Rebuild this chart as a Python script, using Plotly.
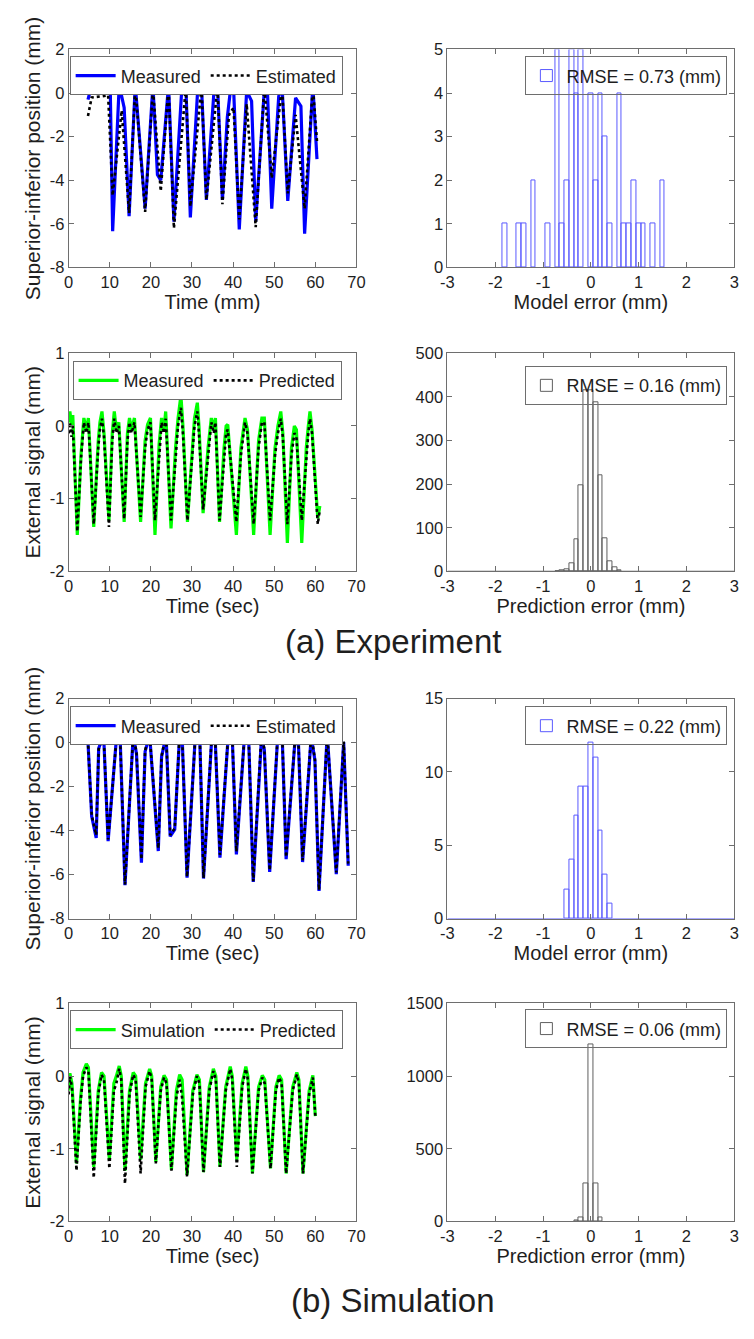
import plotly.graph_objects as go
from plotly.subplots import make_subplots

W, H = 754, 1339
FONT = "Liberation Sans, Arial, sans-serif"
TXT = "#1e1e1e"
AXC = "#6e6e6e"
BLUE = "#0000ff"
GREEN = "#00ff00"
HIST_BLUE = "rgb(90,90,255)"
HIST_GRAY = "rgb(95,95,95)"

# ---------------- (a) Experiment ----------------
# Superior-inferior position, measured
exp_si_meas_t = [4.7, 5.6, 8.0, 9.6, 10.1, 10.7, 12.3, 13.5, 14.7, 16.2, 18.6, 20.5,
                 21.6, 22.4, 24.3, 25.6, 27.5, 28.5, 29.6, 31.4, 32.3, 33.5, 35.4,
                 36.2, 37.4, 38.6, 39.5, 40.1, 41.5, 43.3, 44.5, 45.5, 47.6, 48.3,
                 49.4, 51.1, 51.9, 53.3, 55.2, 56.5, 57.4, 59.4, 60.4]
exp_si_meas = [-0.3, 0.37, 0.37, 0.3, 0.37, -6.34, 0.37, -0.67, -5.65, 0.37, -5.3, 0.37,
               -3.75, -4.0, 0.37, -5.9, 0.15, 0.37, -5.7, 0.2, 0.37, -4.9, 0.2,
               0.37, -4.9, -1.1, 0.37, 0.3, -6.25, 0.1, -0.37, -5.9, 0.15, 0.37,
               -5.3, -0.15, 0.37, -4.95, -0.22, -0.6, -6.45, 0.37, -3.03]
# Superior-inferior position, estimated by the model
exp_si_est_t = [4.7, 5.6, 8.0, 9.6, 10.7, 12.9, 14.7, 16.2, 18.6, 20.5, 22.4, 24.3,
                25.6, 28.5, 29.6, 32.3, 33.5, 36.2, 37.4, 39.0, 40.1, 41.5, 43.3,
                45.5, 47.6, 49.4, 51.9, 53.3, 55.2, 57.4, 59.4, 60.4]
exp_si_est = [-1.05, -0.2, -0.15, -0.1, -4.7, -0.8, -5.5, 0.3, -5.45, 0.2, -4.5, 0.3,
              -6.2, 0.3, -5.2, 0.3, -4.9, 0.3, -5.1, -1.0, -0.67, -5.8, -0.5,
              -6.15, 0.3, -3.9, 0.3, -4.6, -1.0, -5.3, 0.3, -2.2]

# External signal, measured and predicted
exp_ext_t = [0.0, 0.3, 0.7, 1.0, 2.1, 3.0, 3.7, 4.3, 4.8, 6.1, 7.2, 7.6, 8.1, 8.6, 9.8,
             10.6, 11.1, 11.6, 12.2, 13.5, 14.3, 14.8, 15.3, 16.0, 17.5, 18.6, 19.2,
             19.9, 21.0, 22.0, 22.6, 23.2, 23.6, 24.9, 26.0, 26.6, 27.3, 27.8, 28.9,
             30.0, 30.6, 31.3, 31.7, 32.7, 33.9, 34.7, 35.3, 35.7, 36.7, 37.8, 38.3,
             38.7, 40.8, 41.9, 42.5, 42.9, 43.5, 45.0, 46.2, 47.0, 47.6, 49.0, 50.2,
             50.9, 51.6, 52.1, 53.2, 54.2, 54.9, 55.4, 56.7, 57.8, 58.3, 58.7, 59.2,
             60.6, 61.1]
exp_ext_meas = [0.05, 0.2, 0.0, 0.15, -1.5, -0.4, 0.11, -0.05, 0.11, -1.39, -0.2, 0.05,
                0.2, -0.1, -1.3, -0.1, 0.2, -0.05, 0.05, -1.32, -0.1, 0.11, -0.05, 0.11,
                -1.32, -0.2, 0.02, 0.11, -1.5, -0.25, 0.11, -0.05, 0.2, -1.41, -0.3,
                0.1, 0.42, 0.0, -1.32, -0.3, 0.1, 0.32, 0.0, -1.2, -0.3, 0.11, -0.05,
                0.11, -1.32, -0.3, 0.0, 0.02, -1.5, -0.3, 0.0, 0.11, -0.05, -1.5, -0.2,
                0.11, 0.11, -1.5, -0.3, 0.0, 0.2, -0.1, -1.61, -0.3, 0.0, -0.05, -1.61,
                -0.3, 0.0, 0.2, -0.05, -1.27, -1.1]
exp_ext_pred = [-0.1, 0.05, -0.15, 0.0, -1.45, -0.45, 0.05, -0.1, 0.05, -1.35, -0.3, -0.05,
                0.1, -0.15, -1.39, -0.2, 0.1, -0.1, 0.0, -1.28, -0.2, 0.05, -0.1, 0.05,
                -1.25, -0.3, -0.05, 0.05, -1.3, -0.35, 0.05, -0.1, 0.1, -1.3, -0.4,
                0.0, 0.25, -0.1, -1.3, -0.4, 0.0, 0.2, -0.1, -1.15, -0.4, 0.05, -0.1,
                0.05, -1.3, -0.4, -0.1, -0.05, -1.32, -0.4, -0.1, 0.05, -0.1, -1.35, -0.3,
                0.05, 0.05, -1.3, -0.4, -0.1, 0.1, -0.15, -1.35, -0.4, -0.1, -0.15, -1.3,
                -0.4, -0.1, 0.1, -0.1, -1.35, -1.15]

# Error histograms (bin centres, bin width 0.1 mm)
exp_model_err_bins = [-1.8, -1.5, -1.4, -1.2, -0.9, -0.7, -0.6, -0.5, -0.4, -0.3, -0.2,
                      0.0, 0.1, 0.2, 0.3, 0.4, 0.6, 0.7, 0.8, 0.9, 1.0, 1.1, 1.3, 1.5]
exp_model_err_counts = [1, 1, 1, 2, 1, 5, 1, 2, 5, 4, 5,
                        4, 2, 4, 3, 1, 4, 1, 1, 2, 1, 1, 1, 2]
exp_pred_err_bins = [-0.7, -0.6, -0.5, -0.4, -0.3, -0.2, -0.1, 0.0, 0.1, 0.2, 0.3, 0.4,
                     0.5, 0.6]
exp_pred_err_counts = [1, 2, 4, 19, 73, 198, 415, 415, 387, 220, 75, 22, 9, 2]

# ---------------- (b) Simulation ----------------
sim_si_t = [4.6, 5.6, 6.7, 7.3, 8.5, 9.6, 11.7, 12.5, 13.7, 15.7, 16.5, 17.7, 18.6,
            19.7, 21.8, 22.6, 23.7, 24.7, 25.8, 26.9, 27.6, 28.8, 30.8, 31.9, 32.8,
            34.8, 35.6, 36.8, 38.8, 39.8, 40.8, 42.8, 43.8, 44.9, 46.9, 47.6, 48.9,
            50.8, 52.0, 52.9, 55.0, 55.9, 56.9, 59.0, 59.9, 60.9, 62.9, 65.1, 66.9,
            68.0]
sim_si_meas = [0.4, -3.35, -4.33, -0.27, 0.38, -4.48, 0.38, 0.33, -6.48, 0.33, -0.5,
               -5.46, -0.4, 0.33, -4.93, -0.65, 0.33, -4.26, -3.95, 0.03, 0.33, -6.14,
               0.26, 0.18, -6.18, 0.2, 0.38, -5.23, 0.26, 0.26, -5.08, 0.38, 0.1, -6.33,
               0.18, -0.32, -5.88, 0.1, -0.05, -5.3, -0.05, -0.05, -5.43, 0.29, -0.8,
               -6.74, 0.4, -5.98, 0.03, -5.6]
sim_si_est = [0.4, -3.3, -4.2, -0.3, 0.35, -4.4, 0.35, 0.3, -6.45, 0.35, -0.45,
              -5.3, -0.35, 0.35, -4.8, -0.6, 0.35, -4.2, -3.9, 0.05, 0.3, -6.1,
              0.25, 0.2, -6.15, 0.25, 0.38, -5.1, 0.3, 0.25, -4.95, 0.4, 0.1, -6.3,
              0.4, -0.3, -5.8, 0.15, 0.0, -5.2, 0.0, 0.0, -5.35, 0.35, -0.75,
              -6.7, 0.4, -5.9, 0.05, -5.5]

sim_ext_t = [0.0, 0.3, 0.8, 1.9, 2.9, 3.5, 4.3, 4.8, 6.1, 7.2, 8.0, 8.6, 9.9, 11.0, 11.6,
             12.3, 12.8, 13.7, 14.8, 15.7, 16.3, 17.5, 18.7, 19.7, 20.2, 21.2, 22.4,
             23.2, 23.8, 25.0, 26.2, 27.0, 27.6, 28.8, 30.2, 31.2, 31.8, 32.8, 34.2,
             35.2, 35.8, 36.8, 38.2, 39.3, 39.8, 40.9, 42.2, 43.1, 43.6, 44.7, 46.2,
             47.1, 47.7, 49.1, 50.4, 51.2, 51.8, 52.9, 54.5, 55.5, 56.0, 57.0, 58.5,
             59.4, 60.0]
sim_ext_sim = [-0.2, 0.04, -0.1, -1.2, -0.3, 0.05, 0.17, 0.12, -1.25, -0.2, 0.05, 0.0,
               -1.15, -0.1, 0.0, 0.14, 0.0, -1.3, -0.2, 0.05, 0.0, -1.15, -0.1, 0.1,
               0.0, -1.18, -0.15, 0.01, -0.05, -1.29, -0.2, 0.02, -0.05, -1.36, -0.2,
               0.02, -0.05, -1.32, -0.15, 0.1, 0.0, -1.25, -0.15, 0.13, 0.0, -1.15,
               -0.1, 0.13, 0.0, -1.34, -0.15, 0.01, -0.05, -1.27, -0.15, 0.01, -0.05,
               -1.34, -0.15, 0.05, -0.05, -1.34, -0.2, 0.01, -0.55]
sim_ext_pred = [-0.25, 0.0, -0.15, -1.3, -0.35, 0.0, 0.12, 0.08, -1.4, -0.25, 0.02, -0.05,
                -1.27, -0.2, -0.1, 0.1, -0.05, -1.48, -0.25, 0.02, -0.05, -1.34, -0.15,
                0.07, -0.05, -1.2, -0.2, -0.02, -0.1, -1.3, -0.3, -0.05, -0.3, -1.38,
                -0.25, 0.0, -0.1, -1.32, -0.2, 0.07, -0.05, -1.25, -0.2, 0.1, -0.05,
                -1.25, -0.15, 0.1, -0.05, -1.34, -0.2, -0.02, -0.1, -1.27, -0.2, -0.02,
                -0.1, -1.34, -0.2, 0.02, -0.1, -1.34, -0.25, -0.02, -0.55]

sim_model_err_bins = [-0.5, -0.4, -0.3, -0.2, -0.1, 0.0, 0.1, 0.2, 0.3, 0.4]
sim_model_err_counts = [2, 4, 7, 9, 9, 12, 11, 6, 3, 1]
sim_pred_err_bins = [-0.3, -0.2, -0.1, 0.0, 0.1, 0.2]
sim_pred_err_counts = [10, 28, 265, 1215, 262, 27]

# Axis ticks
time_ticks = [0, 10, 20, 30, 40, 50, 60, 70]
err_ticks = [-3, -2, -1, 0, 1, 2, 3]
si_ticks = [-8, -6, -4, -2, 0, 2]
ext_ticks = [-2, -1, 0, 1]
model_count_ticks_exp = [0, 1, 2, 3, 4, 5]
pred_count_ticks_exp = [0, 100, 200, 300, 400, 500]
model_count_ticks_sim = [0, 5, 10, 15]
pred_count_ticks_sim = [0, 500, 1000, 1500]

# Histogram bin range and width
HIST_EDGES = [-3, 3]
BIN_WIDTH = 0.1

# ---------------- figure ----------------
fig = make_subplots(rows=4, cols=2)


def px_x(a, b):
    return [a / W, b / W]


def px_y(top, bottom):
    return [1 - bottom / H, 1 - top / H]


col_x = [px_x(63, 357), px_x(450, 743)]
row_y = [px_y(41, 262), px_y(349, 570), px_y(699, 922), px_y(1008, 1229)]


def line_pair(row, t1, y1, t2, y2, c1, n1, n2, legend):
    fig.add_trace(go.Scatter(x=t1, y=y1, mode="lines", name=n1,
                             line=dict(color=c1, width=3.2), legend=legend),
                  row=row, col=1)
    fig.add_trace(go.Scatter(x=t2, y=y2, mode="lines", name=n2,
                             line=dict(color="black", width=2.6, dash="dot"),
                             legend=legend),
                  row=row, col=1)


def hist(row, bins, counts, color, label, legend):
    fig.add_trace(go.Bar(x=bins, y=counts, width=BIN_WIDTH, name=label,
                         marker=dict(color="rgba(255,255,255,0)",
                                     line=dict(color=color, width=1)),
                         legend=legend, showlegend=True),
                  row=row, col=2)
    # zero-count bins along the whole histogram range
    fig.add_trace(go.Scatter(x=HIST_EDGES, y=[0, 0], mode="lines",
                             line=dict(color=color, width=1.2),
                             showlegend=False, hoverinfo="skip"),
                  row=row, col=2)


line_pair(1, exp_si_meas_t, exp_si_meas, exp_si_est_t, exp_si_est,
          BLUE, "Measured", "Estimated", "legend")
hist(1, exp_model_err_bins, exp_model_err_counts, HIST_BLUE,
     "RMSE = 0.73 (mm)", "legend2")
line_pair(2, exp_ext_t, exp_ext_meas, exp_ext_t, exp_ext_pred,
          GREEN, "Measured", "Predicted", "legend3")
hist(2, exp_pred_err_bins, exp_pred_err_counts, HIST_GRAY,
     "RMSE = 0.16 (mm)", "legend4")
line_pair(3, sim_si_t, sim_si_meas, sim_si_t, sim_si_est,
          BLUE, "Measured", "Estimated", "legend5")
hist(3, sim_model_err_bins, sim_model_err_counts, HIST_BLUE,
     "RMSE = 0.22 (mm)", "legend6")
line_pair(4, sim_ext_t, sim_ext_sim, sim_ext_t, sim_ext_pred,
          GREEN, "Simulation", "Predicted", "legend7")
hist(4, sim_pred_err_bins, sim_pred_err_counts, HIST_GRAY,
     "RMSE = 0.06 (mm)", "legend8")

axis_style = dict(showline=True, linecolor=AXC, linewidth=1, mirror="allticks",
                  ticks="inside", ticklen=5, tickcolor=AXC, showgrid=False,
                  zeroline=False, tickfont=dict(family=FONT, size=16.5, color=TXT),
                  title_font=dict(family=FONT, size=20, color=TXT))


def tick_axis(vals):
    # plain hyphen-minus labels
    return dict(tickmode="array", tickvals=vals, ticktext=[str(v) for v in vals])


x_titles = ["Time (mm)", "Model error (mm)", "Time (sec)", "Prediction error (mm)",
            "Time (sec)", "Model error (mm)", "Time (sec)", "Prediction error (mm)"]
y_titles = ["Superior-inferior position (mm)", None, "External signal (mm)", None,
            "Superior-inferior position (mm)", None, "External signal (mm)", None]
y_tick_sets = [si_ticks, model_count_ticks_exp, ext_ticks, pred_count_ticks_exp,
               si_ticks, model_count_ticks_sim, ext_ticks, pred_count_ticks_sim]

layout = {}
for i in range(8):
    r, c = divmod(i, 2)
    sx = "" if i == 0 else str(i + 1)
    xt = time_ticks if c == 0 else err_ticks
    xa = dict(axis_style, domain=col_x[c], range=[xt[0], xt[-1]],
              title=dict(text=x_titles[i], standoff=1), **tick_axis(xt))
    yt = y_tick_sets[i]
    ya = dict(axis_style, domain=row_y[r], range=[yt[0], yt[-1]], **tick_axis(yt))
    if y_titles[i]:
        ya["title"] = dict(text=y_titles[i], standoff=3,
                           font=dict(family=FONT, size=21, color=TXT))
    layout["xaxis" + sx] = xa
    layout["yaxis" + sx] = ya

# one legend per panel
leg_font = dict(family=FONT, size=18, color=TXT)
legend_top = [48, 48, 357, 362, 707, 707, 1015, 1014]
for i in range(8):
    r, c = divmod(i, 2)
    key = "legend" if i == 0 else "legend" + str(i + 1)
    base = dict(bordercolor=AXC, borderwidth=1, font=leg_font,
                y=1 - legend_top[i] / H, yanchor="top", tracegroupgap=0)
    if c == 0:
        base.update(orientation="h", x=(64 if i != 2 else 67) / W, xanchor="left",
                    itemwidth=40, bgcolor="white")
    else:
        base.update(x=736 / W, xanchor="right", bgcolor="rgba(255,255,255,0)")
    layout[key] = base

fig.update_layout(**layout)
fig.update_layout(width=W, height=H, margin=dict(l=0, r=0, t=0, b=0),
                  paper_bgcolor="white", plot_bgcolor="white",
                  font=dict(family=FONT, color=TXT), bargap=0)

for label, ypx in [("(a) Experiment", 641), ("(b) Simulation", 1309)]:
    fig.add_annotation(text=label, x=394 / W, y=1 - ypx / H, xref="paper",
                       yref="paper", xanchor="center", yanchor="middle",
                       showarrow=False, font=dict(family=FONT, size=33, color=TXT))

fig.write_html("out.html")
